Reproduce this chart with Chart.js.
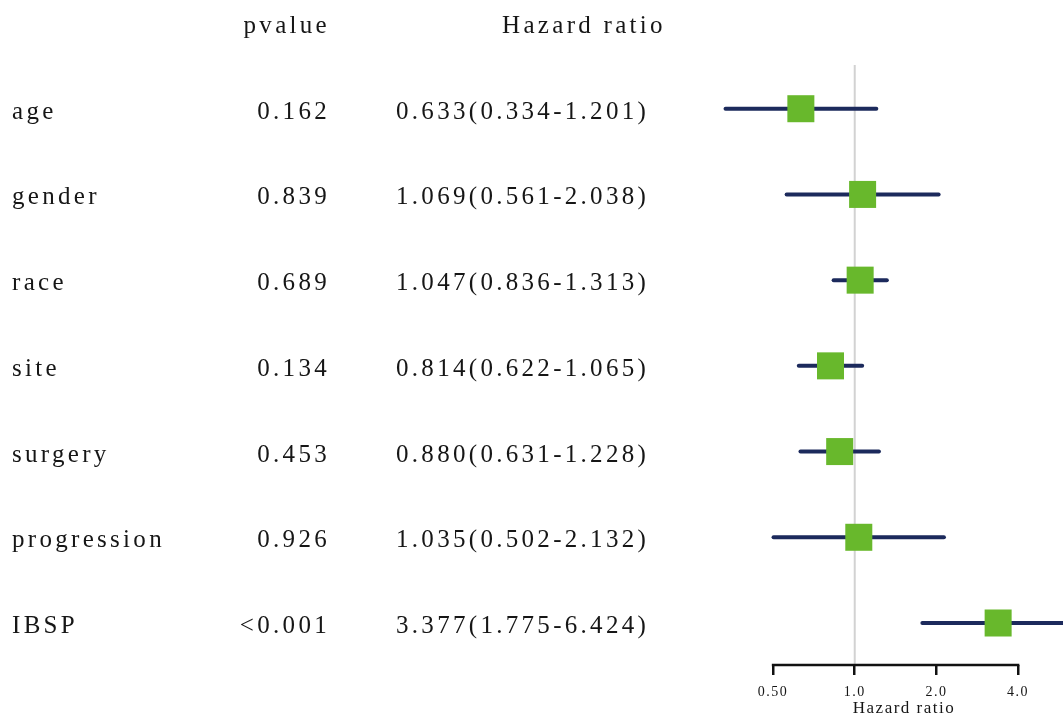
<!DOCTYPE html>
<html>
<head>
<meta charset="utf-8">
<script src="https://cdn.jsdelivr.net/npm/chart.js@4"></script>
<style>
html,body{margin:0;padding:0;background:#fff;}
canvas{display:block;}
</style>
</head>
<body>
<canvas id="c" width="1063" height="718"></canvas>
<script>
const categories = ['age','gender','race','site','surgery','progression','IBSP'];
const pvalues = ['0.162','0.839','0.689','0.134','0.453','0.926','<0.001'];
const hazard = [0.633,1.069,1.047,0.814,0.880,1.035,3.377];
const lower = [0.334,0.561,0.836,0.622,0.631,0.502,1.775];
const upper = [1.201,2.038,1.313,1.065,1.228,2.132,6.424];
const tickValues = [0.5,1,2,4];
const tickLabels = ['0.50','1.0','2.0','4.0'];
const headers = ['pvalue','Hazard ratio'];
const axisTitle = 'Hazard ratio';

const GREEN = '#68b82c';
const NAVY = '#1c2a5c';
const TEXT = '#161616';

const whiskerSets = categories.map((c,i)=>({
  type:'line',
  label:c,
  data:[{x:lower[i],y:i},{x:upper[i],y:i}],
  borderColor:NAVY,
  borderWidth:4,
  borderCapStyle:'round',
  pointRadius:0,
  showLine:true,
  clip:false,
  order:1
}));

const squareSet = {
  type:'scatter',
  label:'HR',
  data:hazard.map((v,i)=>({x:v,y:i})),
  pointStyle:'rect',
  pointRadius:19.1,
  pointHoverRadius:19.1,
  backgroundColor:GREEN,
  borderColor:GREEN,
  borderWidth:0,
  clip:false,
  order:0
};

const forestPlugin = {
  id:'forest',
  beforeDatasetsDraw(chart){
    const {ctx, chartArea, scales:{x}} = chart;
    const px = x.getPixelForValue(1);
    ctx.save();
    ctx.strokeStyle = '#d2d2d2';
    ctx.lineWidth = 2;
    ctx.beginPath();
    ctx.moveTo(px, chartArea.top);
    ctx.lineTo(px, chartArea.bottom);
    ctx.stroke();
    ctx.strokeStyle = '#111';
    ctx.lineWidth = 2.5;
    ctx.beginPath();
    ctx.moveTo(x.getPixelForValue(tickValues[0]) - 1.25, chartArea.bottom);
    ctx.lineTo(x.getPixelForValue(tickValues[tickValues.length-1]) + 1.25, chartArea.bottom);
    ctx.stroke();
    ctx.restore();
  },
  afterDraw(chart){
    const {ctx, scales:{x, y}} = chart;
    ctx.save();
    ctx.fillStyle = TEXT;
    // axis title, centred on the plotting panel
    ctx.font = '17px "Liberation Serif"';
    ctx.letterSpacing = '1.5px';
    ctx.textAlign = 'center';
    ctx.textBaseline = 'middle';
    ctx.fillText(axisTitle, (x.left + chart.width) / 2, x.bottom - 9);

    ctx.font = '25px "Liberation Serif"';
    ctx.letterSpacing = '3.3px';
    ctx.textBaseline = 'alphabetic';
    const hy = y.getPixelForValue(-1) + 10;
    ctx.textAlign = 'right';
    ctx.fillText(headers[0], 330, hy);
    ctx.textAlign = 'center';
    ctx.fillText(headers[1], 584, hy);
    categories.forEach((c,i)=>{
      const by = y.getPixelForValue(i) + 10;
      ctx.textAlign = 'left';
      ctx.fillText(c, 12, by);
      ctx.textAlign = 'right';
      ctx.fillText(pvalues[i], 330, by);
      ctx.textAlign = 'left';
      const s = hazard[i].toFixed(3) + '(' + lower[i].toFixed(3) + '-' + upper[i].toFixed(3) + ')';
      ctx.fillText(s, 396, by);
    });
    ctx.restore();
  },
  beforeDraw(chart){
    chart.ctx.letterSpacing = '1.5px';
  }
};

new Chart(document.getElementById('c'), {
  type:'scatter',
  data:{datasets:[squareSet, ...whiskerSets]},
  options:{
    responsive:false,
    animation:false,
    events:[],
    layout:{padding:{left:745,top:65,right:0,bottom:0}},
    plugins:{legend:{display:false},tooltip:{enabled:false}},
    scales:{
      x:{
        type:'logarithmic',
        min:0.394,
        max:4.98,
        afterBuildTicks(scale){ scale.ticks = tickValues.map(v=>({value:v})); },
        afterFit(scale){ scale.height = 53; },
        border:{display:false},
        grid:{drawOnChartArea:false, drawTicks:true, tickLength:10, color:'#111', lineWidth:2.5},
        ticks:{
          autoSkip:false, maxRotation:0, padding:9,
          color:TEXT,
          font:{family:'"Liberation Serif"', size:14},
          callback(v){ const k = tickValues.indexOf(v); return k>=0 ? tickLabels[k] : ''; }
        },
        title:{display:false}
      },
      y:{
        type:'linear', display:false, reverse:true, min:-0.51, max:6.49
      }
    }
  },
  plugins:[forestPlugin]
});
</script>
</body>
</html>
